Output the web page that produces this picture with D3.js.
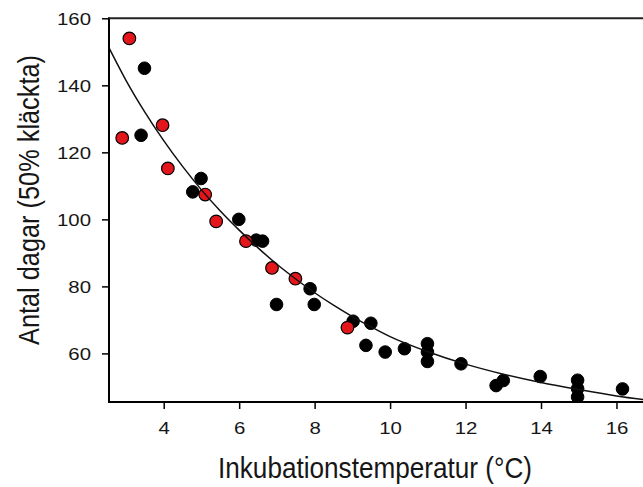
<!DOCTYPE html>
<html>
<head>
<meta charset="utf-8">
<script src="https://cdn.jsdelivr.net/npm/d3@7"></script>
<style>
  body { margin: 0; background: #fff; }
  svg { display: block; font-family: "Liberation Sans", Arial, sans-serif; }
</style>
</head>
<body>
<svg id="chart" width="643" height="487"></svg>
<script>
// red points (one group of eggs)
var redTemp = [3.09, 2.90, 3.97, 4.11, 5.10, 5.39, 6.18, 6.87, 7.49, 8.87];
var redDays = [154.0, 124.3, 128.1, 115.2, 107.4, 99.4, 93.5, 85.5, 82.3, 67.7];

// black points
var blackTemp = [3.49, 3.40, 4.99, 4.77, 5.99, 6.45, 6.62, 6.99, 7.88, 7.99, 9.02, 9.49, 9.36, 9.87,
                 10.38, 10.99, 10.99, 10.99, 11.88, 12.81, 13.0, 13.98, 14.97, 14.97, 14.97, 16.16];
var blackDays = [145.1, 125.1, 112.2, 108.2, 100.0, 93.8, 93.5, 74.6, 79.3, 74.6, 69.6, 69.0, 62.4, 60.4,
                 61.4, 62.9, 60.4, 57.6, 56.9, 50.4, 51.9, 53.1, 52.0, 49.5, 47.0, 49.4];

// fitted curve
var fitTemp = [2.55, 3, 3.5, 4, 4.5, 5, 5.5, 6, 6.5, 7, 7.5, 8, 8.5, 9, 9.5, 10, 11, 12, 13, 14, 15, 16, 17];
var fitDays = [151.2, 141.5, 132, 123.5, 115.8, 108.8, 102.5, 96.8, 91.5, 86.6, 82.2, 78.1, 74.4, 71.0,
               67.9, 65.0, 60.5, 56.8, 53.8, 51.3, 49.2, 47.3, 45.8];

var xTicks = [4, 6, 8, 10, 12, 14, 16];
var yTicks = [60, 80, 100, 120, 140, 160];

var svg = d3.select("#chart");

var plotLeft = 109, plotTop = 18.3, plotBottom = 402;

var x = d3.scaleLinear().domain([2.55, 17]).range([plotLeft, plotLeft + 14.45 * 37.73]);
var y = d3.scaleLinear().domain([45.5, 160]).range([plotBottom, plotTop]);

svg.append("clipPath").attr("id", "plotclip")
    .append("rect")
    .attr("x", plotLeft).attr("y", plotTop)
    .attr("width", 643 - plotLeft).attr("height", plotBottom - plotTop);

var plot = svg.append("g").attr("clip-path", "url(#plotclip)");

function pts(xs, ys) { return xs.map(function (v, i) { return [v, ys[i]]; }); }

// black dots first, red on top
plot.selectAll("circle.blk")
    .data(pts(blackTemp, blackDays))
    .enter().append("circle")
    .attr("class", "blk")
    .attr("cx", function (d) { return x(d[0]); })
    .attr("cy", function (d) { return y(d[1]); })
    .attr("r", 6.3)
    .attr("fill", "#000")
    .attr("stroke", "#000")
    .attr("stroke-width", 1);

plot.selectAll("circle.red")
    .data(pts(redTemp, redDays))
    .enter().append("circle")
    .attr("class", "red")
    .attr("cx", function (d) { return x(d[0]); })
    .attr("cy", function (d) { return y(d[1]); })
    .attr("r", 6.3)
    .attr("fill", "#e3161c")
    .attr("stroke", "#000")
    .attr("stroke-width", 1.2);

// curve is drawn over the dots
var line = d3.line()
    .x(function (d) { return x(d[0]); })
    .y(function (d) { return y(d[1]); })
    .curve(d3.curveMonotoneX);

plot.append("path")
    .datum(pts(fitTemp, fitDays))
    .attr("d", line)
    .attr("fill", "none")
    .attr("stroke", "#111")
    .attr("stroke-width", 1.5);

// axes
var xAxis = svg.append("g")
    .attr("transform", "translate(0," + plotBottom + ")")
    .call(d3.axisBottom(x).tickValues(xTicks).tickSize(7).tickSizeOuter(0));
var yAxis = svg.append("g")
    .attr("transform", "translate(" + plotLeft + ",0)")
    .call(d3.axisLeft(y).tickValues(yTicks).tickSize(7).tickSizeOuter(0));

[xAxis, yAxis].forEach(function (a) {
  a.select(".domain").remove();
  a.selectAll(".tick line").attr("stroke", "#000").attr("stroke-width", 1.5);
  a.selectAll(".tick text").attr("fill", "#161616").style("font-size", "17px");
});
xAxis.selectAll(".tick text").attr("y", 20).attr("transform", "scale(1.2,1)");
yAxis.selectAll(".tick text").attr("x", -15).attr("dy", "0.36em").attr("transform", "scale(1.2,1)");

// frame: left, bottom, top
svg.append("line").attr("x1", plotLeft).attr("x2", plotLeft).attr("y1", plotTop - 1).attr("y2", plotBottom + 1)
    .attr("stroke", "#000").attr("stroke-width", 2);
svg.append("line").attr("x1", plotLeft).attr("x2", 643).attr("y1", plotBottom).attr("y2", plotBottom)
    .attr("stroke", "#000").attr("stroke-width", 2);
svg.append("line").attr("x1", plotLeft).attr("x2", 643).attr("y1", plotTop).attr("y2", plotTop)
    .attr("stroke", "#222").attr("stroke-width", 2);

// axis titles
svg.append("text")
    .attr("x", 375).attr("y", 478)
    .attr("text-anchor", "middle")
    .attr("fill", "#161616")
    .style("font-size", "30px")
    .attr("textLength", 314)
    .attr("lengthAdjust", "spacingAndGlyphs")
    .text("Inkubationstemperatur (°C)");

svg.append("text")
    .attr("transform", "translate(39,200) rotate(-90)")
    .attr("text-anchor", "middle")
    .attr("fill", "#161616")
    .style("font-size", "30px")
    .attr("textLength", 290)
    .attr("lengthAdjust", "spacingAndGlyphs")
    .text("Antal dagar (50% kläckta)");
</script>
</body>
</html>
